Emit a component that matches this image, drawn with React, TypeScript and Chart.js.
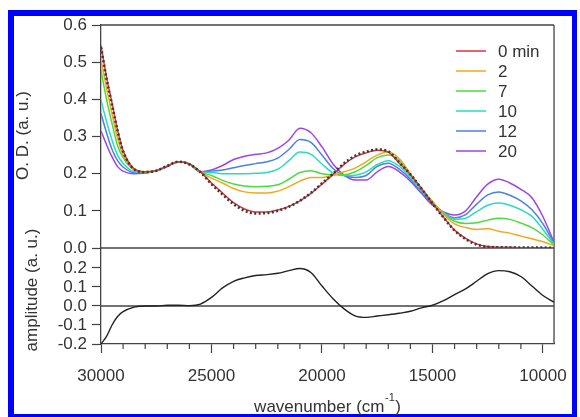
import React, { useEffect, useRef } from "react";
import { Chart, registerables } from "chart.js";

Chart.register(...registerables);

// ---------- data ----------
const WAVENUMBER = [
  30000, 29750, 29500, 29250, 29000, 28500, 28000, 27500, 27000, 26500, 26000,
  25500, 25000, 24500, 24000, 23500, 23000, 22500, 22000, 21500, 21000, 20500,
  20000, 19500, 19000, 18500, 18000, 17500, 17000, 16500, 16000, 15500, 15000,
  14500, 14000, 13500, 13000, 12500, 12000, 11500, 11000, 10500, 10000, 9500,
];

const OD_0 = [
  0.545, 0.46, 0.39, 0.317, 0.262, 0.213, 0.205, 0.208, 0.22, 0.232, 0.226,
  0.205, 0.175, 0.148, 0.122, 0.105, 0.097, 0.097, 0.102, 0.112, 0.127, 0.147,
  0.172, 0.198, 0.225, 0.245, 0.256, 0.263, 0.258, 0.228, 0.197, 0.16, 0.12,
  0.083, 0.048, 0.026, 0.011, 0.004, 0.002, 0.002, 0.001, 0.001, 0.001, 0.0,
];
const OD_2 = [
  0.505, 0.43, 0.36, 0.295, 0.25, 0.212, 0.205, 0.208, 0.22, 0.232, 0.226,
  0.205, 0.188, 0.175, 0.16, 0.151, 0.148, 0.148, 0.153, 0.165, 0.18, 0.19,
  0.19, 0.196, 0.205, 0.215, 0.232, 0.25, 0.258, 0.24, 0.2, 0.16, 0.125,
  0.09, 0.065, 0.055, 0.05, 0.052, 0.045, 0.04, 0.032, 0.025, 0.017, 0.006,
];
const OD_7 = [
  0.478, 0.4, 0.335, 0.275, 0.243, 0.21, 0.205, 0.208, 0.22, 0.232, 0.226,
  0.205, 0.195, 0.182, 0.172, 0.167, 0.165, 0.166, 0.17, 0.185, 0.203, 0.208,
  0.2, 0.197, 0.197, 0.205, 0.222, 0.243, 0.25, 0.235, 0.198, 0.16, 0.125,
  0.093, 0.072, 0.066, 0.068, 0.075, 0.08, 0.077, 0.067, 0.055, 0.035, 0.008,
];
const OD_10 = [
  0.398, 0.34, 0.29, 0.25, 0.228, 0.205, 0.204, 0.208, 0.22, 0.232, 0.226,
  0.205, 0.203, 0.2, 0.2, 0.2, 0.201, 0.203, 0.212, 0.235, 0.258, 0.252,
  0.226, 0.202, 0.195, 0.196, 0.205, 0.225, 0.235, 0.22, 0.19, 0.155, 0.122,
  0.095, 0.077, 0.08, 0.098, 0.115, 0.121, 0.115, 0.103, 0.085, 0.05, 0.01,
];
const OD_12 = [
  0.362, 0.31, 0.265, 0.235, 0.218, 0.203, 0.203, 0.208, 0.22, 0.232, 0.226,
  0.205, 0.207, 0.21, 0.216, 0.222, 0.227, 0.232, 0.242, 0.265, 0.292, 0.284,
  0.25, 0.214, 0.195, 0.19, 0.195, 0.22, 0.228, 0.212, 0.185, 0.15, 0.118,
  0.095, 0.081, 0.09, 0.118, 0.143, 0.151, 0.142, 0.127, 0.103, 0.065, 0.012,
];
const OD_20 = [
  0.315, 0.278, 0.245, 0.219, 0.207, 0.2, 0.202, 0.208, 0.22, 0.232, 0.226,
  0.205, 0.21, 0.222, 0.238, 0.247, 0.252, 0.256, 0.268, 0.29, 0.322, 0.31,
  0.272, 0.226, 0.196, 0.183, 0.183, 0.205, 0.219, 0.205, 0.18, 0.147, 0.115,
  0.097, 0.089, 0.1, 0.138, 0.172, 0.185, 0.175, 0.158, 0.135, 0.084, 0.015,
];
const OD_FIT = [
  0.54, 0.455, 0.385, 0.315, 0.26, 0.212, 0.204, 0.208, 0.221, 0.232, 0.225,
  0.204, 0.172, 0.144, 0.118, 0.1, 0.093, 0.094, 0.1, 0.111, 0.127, 0.148,
  0.174, 0.2, 0.228, 0.248, 0.259, 0.265, 0.26, 0.23, 0.198, 0.16, 0.12,
  0.082, 0.047, 0.024, 0.009, 0.003, 0.002, 0.001, 0.001, 0.001, 0.001, 0.0,
];

const AMPLITUDE = [
  -0.2, -0.16, -0.1, -0.055, -0.03, -0.006, 0.0, 0.0, 0.004, 0.004, 0.002,
  0.01, 0.045, 0.095, 0.13, 0.148, 0.16, 0.165, 0.172, 0.186, 0.197, 0.176,
  0.105, 0.038, -0.015, -0.052, -0.06, -0.053, -0.046, -0.038, -0.028, -0.01,
  0.004, 0.028, 0.06, 0.09, 0.13, 0.17, 0.186, 0.18, 0.155, 0.105, 0.055, 0.02,
];

const SERIES_LABELS = ["0 min", "2", "7", "10", "12", "20"];
const SERIES_VALUES = [OD_0, OD_2, OD_7, OD_10, OD_12, OD_20];
const SERIES_COLORS = ["#e6313a", "#f2a71b", "#48dd3a", "#27dcc0", "#4a80ea", "#9b45ea"];

const Y_TOP_TICKS = [0, 0.1, 0.2, 0.3, 0.4, 0.5, 0.6];
const Y_BOT_TICKS = [-0.2, -0.1, 0, 0.1, 0.2];
const X_TICKS = [30000, 25000, 20000, 15000, 10000];
const X_MINOR_TICKS = [
  29000, 28000, 27000, 26000, 24000, 23000, 22000, 21000, 19000, 18000, 17000,
  16000, 14000, 13000, 12000, 11000,
];

const FONT = "'Liberation Sans', Arial, sans-serif";
const AXIS_COLOR = "#444";
const TEXT_COLOR = "#333";

const pts = (ys: number[]) => WAVENUMBER.map((x, i) => ({ x, y: ys[i] }));

const decorPlugin = {
  id: "decor",
  beforeDatasetsDraw(chart: any) {
    const { ctx, chartArea, scales } = chart;
    const { left, right, top, bottom } = chartArea;
    ctx.save();
    ctx.strokeStyle = AXIS_COLOR;
    ctx.lineWidth = 1.3;
    const hline = (y: number) => {
      ctx.beginPath();
      ctx.moveTo(left, y);
      ctx.lineTo(right, y);
      ctx.stroke();
    };
    hline(top);
    hline(scales.yTop.getPixelForValue(0));
    hline(scales.yBot.getPixelForValue(0));
    ctx.beginPath();
    ctx.moveTo(right, top);
    ctx.lineTo(right, bottom);
    ctx.stroke();
    ctx.restore();
  },
  afterDraw(chart: any) {
    const { ctx, chartArea, scales } = chart;
    ctx.save();
    // minor x ticks
    ctx.strokeStyle = AXIS_COLOR;
    ctx.lineWidth = 1.2;
    for (const v of X_MINOR_TICKS) {
      const x = scales.x.getPixelForValue(v);
      ctx.beginPath();
      ctx.moveTo(x, chartArea.bottom);
      ctx.lineTo(x, chartArea.bottom + 5);
      ctx.stroke();
    }
    // legend
    ctx.font = `17px ${FONT}`;
    ctx.textBaseline = "middle";
    ctx.textAlign = "left";
    SERIES_LABELS.forEach((lab, i) => {
      const y = 51 + i * 20;
      ctx.strokeStyle = SERIES_COLORS[i];
      ctx.lineWidth = 1.5;
      ctx.beginPath();
      ctx.moveTo(456, y);
      ctx.lineTo(486, y);
      ctx.stroke();
      ctx.fillStyle = TEXT_COLOR;
      ctx.fillText(lab, 498, y + 1);
    });
    // y titles
    const yTop = scales.yTop;
    const yBot = scales.yBot;
    ctx.fillStyle = TEXT_COLOR;
    ctx.textAlign = "center";
    ctx.save();
    ctx.translate(23.5, (yTop.top + yTop.bottom) / 2 - 1);
    ctx.rotate(-Math.PI / 2);
    ctx.fillText("O. D. (a. u.)", 0, 0);
    ctx.restore();
    ctx.save();
    ctx.translate(32.5, (yBot.top + yBot.bottom) / 2 - 6);
    ctx.rotate(-Math.PI / 2);
    ctx.fillText("amplitude (a. u.)", 0, 0);
    ctx.restore();
    // x title with superscript
    const main = "wavenumber (cm";
    const sup = "-1";
    const close = ")";
    ctx.textBaseline = "alphabetic";
    ctx.textAlign = "left";
    ctx.font = `17px ${FONT}`;
    const w1 = ctx.measureText(main).width;
    const w3 = ctx.measureText(close).width;
    ctx.font = `11px ${FONT}`;
    const w2 = ctx.measureText(sup).width;
    const total = w1 + w2 + w3 + 1;
    const cx = (chartArea.left + chartArea.right) / 2;
    const x0 = cx - total / 2;
    const base = 412;
    ctx.font = `17px ${FONT}`;
    ctx.fillText(main, x0, base);
    ctx.font = `11px ${FONT}`;
    ctx.fillText(sup, x0 + w1 + 0.5, base - 11);
    ctx.font = `17px ${FONT}`;
    ctx.fillText(close, x0 + w1 + w2 + 1, base);
    ctx.restore();
  },
};

export default function App() {
  const ref = useRef<HTMLCanvasElement | null>(null);

  useEffect(() => {
    if (!ref.current) return;
    const datasets: any[] = [
      {
        label: "fit",
        data: pts(OD_FIT),
        yAxisID: "yTop",
        borderColor: "#3a3a3a",
        borderWidth: 2.6,
        borderDash: [2, 2.4],
        order: 0,
      },
      ...SERIES_LABELS.map((lab, i) => ({
        label: lab,
        data: pts(SERIES_VALUES[i]),
        yAxisID: "yTop",
        borderColor: SERIES_COLORS[i],
        borderWidth: 1.5,
        order: i + 1,
      })),
      {
        label: "amplitude",
        data: pts(AMPLITUDE),
        yAxisID: "yBot",
        borderColor: "#222",
        borderWidth: 1.4,
        order: 10,
      },
    ];

    const yCommon = (ticksArr: number[]) => ({
      type: "linear" as const,
      position: "left" as const,
      stack: "ystack",
      afterBuildTicks: (s: any) => {
        s.ticks = ticksArr.map((v) => ({ value: v }));
      },
      afterFit: (s: any) => {
        s.width = 101;
      },
      grid: {
        drawOnChartArea: false,
        drawTicks: true,
        tickLength: 9,
        tickColor: AXIS_COLOR,
        tickWidth: 1.2,
      },
      border: { display: true, color: AXIS_COLOR, width: 1.3 },
      ticks: {
        font: { size: 17, family: FONT },
        color: TEXT_COLOR,
        padding: 5,
        autoSkip: false,
        callback: (v: any) => Number(v).toFixed(1),
      },
    });

    const chart = new Chart(ref.current, {
      type: "line",
      data: { datasets },
      plugins: [decorPlugin],
      options: {
        animation: false,
        responsive: false,
        maintainAspectRatio: false,
        events: [],
        elements: {
          point: { radius: 0 },
          line: { cubicInterpolationMode: "monotone", fill: false },
        },
        layout: { padding: { left: 0, top: 25, right: 16, bottom: 0 } },
        plugins: { legend: { display: false }, tooltip: { enabled: false } },
        scales: {
          x: {
            type: "linear",
            reverse: true,
            min: 9500,
            max: 30000,
            position: "bottom",
            afterBuildTicks: (s: any) => {
              s.ticks = X_TICKS.map((v) => ({ value: v }));
            },
            afterFit: (s: any) => {
              s.height = 73;
            },
            grid: {
              drawOnChartArea: false,
              tickLength: 9,
              tickColor: AXIS_COLOR,
              tickWidth: 1.2,
            },
            border: { display: true, color: AXIS_COLOR, width: 1.3 },
            ticks: {
              font: { size: 17, family: FONT },
              color: TEXT_COLOR,
              padding: 13,
              maxRotation: 0,
              autoSkip: false,
              callback: (v: any) => String(v),
            },
          },
          yBot: { ...yCommon(Y_BOT_TICKS), min: -0.2, max: 0.305, stackWeight: 96 },
          yTop: { ...yCommon(Y_TOP_TICKS), min: 0, max: 0.6, stackWeight: 223 },
        } as any,
      },
    } as any);
    return () => chart.destroy();
  }, []);

  return (
    <div style={{ position: "absolute", left: 0, top: 0, width: 580, height: 417, background: "#fff", overflow: "hidden" }}>
      <div
        style={{
          position: "absolute",
          left: 8,
          top: 10,
          width: 569,
          height: 407,
          boxSizing: "border-box",
          borderStyle: "solid",
          borderColor: "#0000ff",
          borderWidth: "6px 5px 3px 6px",
        }}
      />
      <canvas ref={ref} width={580} height={417} style={{ position: "absolute", left: 0, top: 0, width: 580, height: 417 }} />
    </div>
  );
}
